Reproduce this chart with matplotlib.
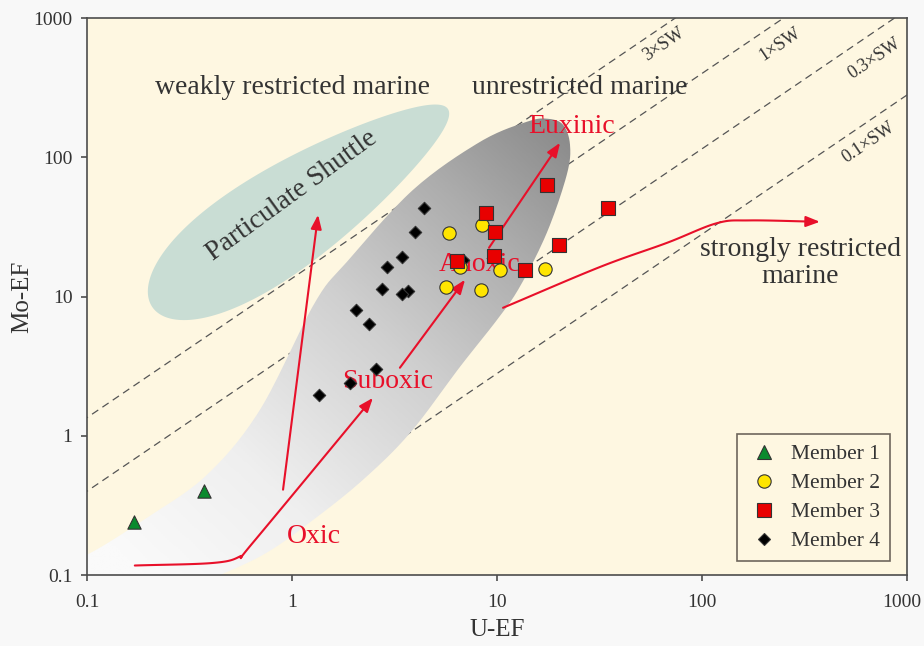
import numpy as np
import matplotlib.pyplot as plt
from matplotlib.path import Path
from matplotlib.patches import PathPatch, FancyArrowPatch, Polygon
from matplotlib.colors import LinearSegmentedColormap
from matplotlib.lines import Line2D
from matplotlib.transforms import ScaledTranslation

plt.rcParams['font.family'] = ['Liberation Serif', 'DejaVu Serif']

# U-EF / Mo-EF of the samples
m1_u = [0.17, 0.37]
m1_mo = [0.24, 0.40]
m2_u = [5.85, 8.45, 6.6, 10.3, 17.1, 5.62, 8.38]
m2_mo = [28.8, 32.7, 16.4, 15.5, 15.7, 11.7, 11.1]
m3_u = [17.5, 8.8, 9.8, 20.0, 9.7, 6.4, 13.7, 34.8]
m3_mo = [63.4, 39.7, 29.3, 23.3, 19.4, 18.0, 15.6, 43.3]
m4_u = [6.85, 4.4, 4.0, 3.45, 2.9, 2.74, 3.66, 3.45, 2.05, 2.38, 2.57, 1.92, 1.35]
m4_mo = [18.3, 43.4, 29.0, 19.2, 16.3, 11.3, 11.0, 10.4, 8.0, 6.3, 3.0, 2.4, 1.95]

# Mo/U lines as multiples of seawater
sw_ratio = [13.5, 4.0, 1.15, 0.28]
sw_label = ['3×SW', '1×SW', '0.3×SW', '0.1×SW']
sw_label_u = [65, 240, 690, 650]
sw_label_mo = [650, 650, 515, 127]

# outline of the grey suboxic-anoxic-euxinic field
field_u = [14.0, 17.7, 21.0, 22.7, 21.9, 17.5, 12.9, 10.0, 6.6, 3.77, 2.22, 1.27,
           0.755, 0.445, 0.254, 0.092, 0.074, 0.1, 0.196, 0.385, 0.698, 1.29, 1.85,
           3.89, 8.26]
field_mo = [180, 189, 171, 123, 75, 28.7, 11.7, 6.8, 3.13, 1.05, 0.483, 0.249,
            0.145, 0.1, 0.072, 0.066, 0.129, 0.14, 0.258, 0.525, 1.54, 9.0, 17.7,
            58.3, 129]

# particulate shuttle field: centre, half-axes (in x decades), tilt on screen
shuttle_c = (1.094, 43.3)
shuttle_a, shuttle_b, shuttle_tilt = 0.868, 0.245, 33.8

# trend arrows
arrows = {
    'shuttle': ([0.904, 1.34], [0.41, 38.6]),
    'oxic': ([0.171, 0.41, 0.557, 0.645, 2.48], [0.117, 0.122, 0.136, 0.171, 1.87]),
    'suboxic': ([3.36, 6.98], [3.08, 13.2]),
    'anoxic': ([9.14, 20.3], [22.4, 127]),
    'restricted': ([10.7, 31.8, 67.5, 118, 171, 376], [8.3, 16.3, 24.3, 33.6, 35.2, 34.4]),
}

cream = '#FEF7E1'
red = '#E8102A'
txt = '#333333'


def catmull_rom(x, y, n=16, closed=False):
    p = np.column_stack([x, y])
    if closed:
        p = np.vstack([p[-1], p, p[0], p[1]])
    else:
        p = np.vstack([2 * p[0] - p[1], p, 2 * p[-1] - p[-2]])
    out = []
    for i in range(1, len(p) - 2):
        p0, p1, p2, p3 = p[i - 1], p[i], p[i + 1], p[i + 2]
        t = np.linspace(0, 1, n, endpoint=False)[:, None]
        out.append(0.5 * ((2 * p1) + (-p0 + p2) * t + (2 * p0 - 5 * p1 + 4 * p2 - p3) * t ** 2
                          + (-p0 + 3 * p1 - 3 * p2 + p3) * t ** 3))
    out.append(p[-2][None, :])
    return np.vstack(out)


fig = plt.figure(figsize=(9.24, 6.46), dpi=100, facecolor='#F8F8F8')
ax = fig.add_axes([0.0942, 0.1099, 0.8874, 0.8622])
ax.set_xscale('log')
ax.set_yscale('log')
ax.set_facecolor(cream)

# axes size in inches; one decade spans w_in/4 across and h_in/4 up
pos = ax.get_position()
w_in = fig.get_figwidth() * pos.width
h_in = fig.get_figheight() * pos.height

# seawater ratio lines
xs = np.array([0.01, 10000])
for r in sw_ratio:
    ax.plot(xs, r * xs, ls=(0, (6, 4)), color='#555555', lw=0.9, zorder=1)
slope_deg = np.degrees(np.arctan(h_in / w_in))
for lab, u, mo in zip(sw_label, sw_label_u, sw_label_mo):
    ax.text(u, mo, lab, rotation=slope_deg, ha='center', va='center', fontsize=13,
            color=txt, zorder=3)

# grey field with gradient fill
lf = catmull_rom(np.log10(field_u), np.log10(field_mo), closed=True)
field_patch = PathPatch(Path(10 ** lf), facecolor='none', edgecolor='none', zorder=2)
ax.add_patch(field_patch)
ny, nx = 300, 440
fx, fy = np.meshgrid(np.linspace(0, 1, nx), np.linspace(0, 1, ny))
X, Y = fx * w_in, fy * h_in
g0 = np.array([(np.log10(0.2) + 1) / 4 * w_in, (np.log10(0.09) + 1) / 4 * h_in])
g1 = np.array([(np.log10(21) + 1) / 4 * w_in, (np.log10(150) + 1) / 4 * h_in])
d = g1 - g0
tval = np.clip(((X - g0[0]) * d[0] + (Y - g0[1]) * d[1]) / (d @ d), 0, 1)
grey = LinearSegmentedColormap.from_list(
    'grey', [(0, '#FAFAFA'), (0.25, '#EFEFEF'), (0.55, '#D0D0D0'), (0.8, '#ADADAD'), (1, '#8C8C8C')])
im = ax.imshow(tval, extent=(0, 1, 0, 1), origin='lower', transform=ax.transAxes,
               cmap=grey, aspect='auto', zorder=2, interpolation='bilinear')
im.set_clip_path(field_patch)

# particulate shuttle field, egg shaped (broader at the low end)
tt = np.linspace(0, 2 * np.pi, 300)
bb = shuttle_b * (1 - 0.3 * np.cos(tt))
ang = np.radians(shuttle_tilt)
cx = np.log10(shuttle_c[0]) + 1
cy = (np.log10(shuttle_c[1]) + 1) * h_in / w_in
ex = cx + shuttle_a * np.cos(tt) * np.cos(ang) - bb * np.sin(tt) * np.sin(ang)
ey = cy + shuttle_a * np.cos(tt) * np.sin(ang) + bb * np.sin(tt) * np.cos(ang)
shuttle = Polygon(np.column_stack([10 ** (ex - 1), 10 ** (ey * w_in / h_in - 1)]),
                  closed=True, facecolor='#C9DDD4', edgecolor='none', zorder=2)
ax.add_patch(shuttle)

# trend arrows
for name, (au, amo) in arrows.items():
    if len(au) > 2:
        pts = 10 ** catmull_rom(np.log10(au), np.log10(amo), n=20)
    else:
        pts = np.column_stack([au, amo])
    arr = FancyArrowPatch(path=Path(pts), arrowstyle='-|>,head_length=0.6,head_width=0.23',
                          mutation_scale=14, color=red, lw=1.5, zorder=3)
    ax.add_patch(arr)

# field labels
ax.text(1.0, 315, 'weakly restricted marine', ha='center', va='center', fontsize=20, color=txt, zorder=3)
ax.text(25.4, 315, 'unrestricted marine', ha='center', va='center', fontsize=20, color=txt, zorder=3)
ax.text(1.0, 53, 'Particulate Shuttle', rotation=36, ha='center', va='center', fontsize=20,
        color=txt, zorder=3, rotation_mode='anchor')
ax.text(301, 17.5, 'strongly restricted\nmarine', ha='center', va='center', fontsize=20,
        color=txt, zorder=3, linespacing=1.1)
ax.text(23.2, 165, 'Euxinic', ha='center', va='center', fontsize=20, color=red, zorder=3)
ax.text(8.26, 16.9, 'Anoxic', ha='center', va='center', fontsize=20, color=red, zorder=3)
ax.text(2.94, 2.44, 'Suboxic', ha='center', va='center', fontsize=20, color=red, zorder=3)
ax.text(1.28, 0.188, 'Oxic', ha='center', va='center', fontsize=20, color=red, zorder=3)

# samples
mk = dict(edgecolors='#333333', linewidths=0.8, zorder=5)
ax.scatter(m4_u, m4_mo, marker='D', s=40, color='black', **mk)
ax.scatter(m1_u, m1_mo, marker='^', s=92, color='#0A8A2E', **mk)
ax.scatter(m2_u, m2_mo, marker='o', s=92, color='#FFE500', **mk)
ax.scatter(m3_u, m3_mo, marker='s', s=92, color='#E80000', **mk)

handles = [
    Line2D([], [], ls='none', marker='^', ms=9.6, mfc='#0A8A2E', mec='#333333', mew=0.8),
    Line2D([], [], ls='none', marker='o', ms=9.6, mfc='#FFE500', mec='#333333', mew=0.8),
    Line2D([], [], ls='none', marker='s', ms=9.6, mfc='#E80000', mec='#333333', mew=0.8),
    Line2D([], [], ls='none', marker='D', ms=6.3, mfc='black', mec='#333333', mew=0.8),
]
leg = ax.legend(handles, ['Member 1', 'Member 2', 'Member 3', 'Member 4'], loc='lower right',
                bbox_to_anchor=(0.979, 0.025), borderaxespad=0, fontsize=15.5, frameon=True,
                fancybox=False, facecolor=cream, edgecolor='#6E665C', framealpha=1,
                handlelength=1.6, handletextpad=0.45, labelspacing=0.42, borderpad=0.45)
leg.get_frame().set_linewidth(1.2)
leg.set_zorder(6)
for t in leg.get_texts():
    t.set_color(txt)

ticks = [0.1, 1, 10, 100, 1000]
tick_labels = ['0.1', '1', '10', '100', '1000']
ax.set_xlim(0.1, 1000)
ax.set_ylim(0.1, 1000)
ax.set_xticks(ticks)
ax.set_xticklabels(tick_labels)
ax.set_yticks(ticks)
ax.set_yticklabels(tick_labels)
ax.minorticks_off()
ax.tick_params(direction='out', length=4.5, width=1.2, color='#4D4D4D', labelsize=14,
               labelcolor=txt, pad=6)
ax.tick_params(axis='x', pad=9)
# keep the last x label inside the canvas
last = ax.get_xticklabels()[-1]
last.set_transform(last.get_transform() + ScaledTranslation(-4 / 72, 0, fig.dpi_scale_trans))
for s in ax.spines.values():
    s.set_color('#4D4D4D')
    s.set_linewidth(1.2)
    s.set_zorder(7)

ax.set_xlabel('U-EF', fontsize=18, color=txt, labelpad=6)
ax.set_ylabel('Mo-EF', fontsize=18, color=txt, labelpad=0)

fig.savefig('out.png', dpi=100, facecolor=fig.get_facecolor())
